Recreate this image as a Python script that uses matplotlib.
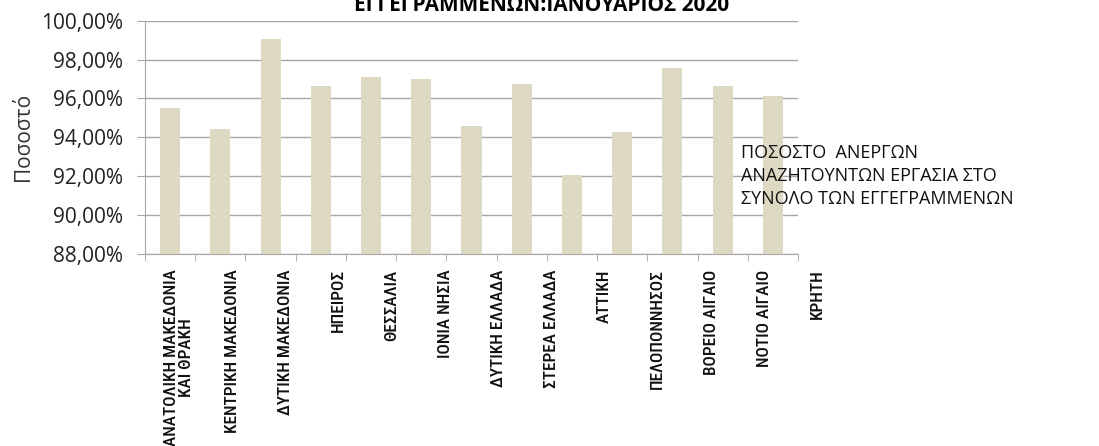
import matplotlib
matplotlib.use("Agg")
import matplotlib.pyplot as plt
from matplotlib.ticker import FuncFormatter, FixedLocator

categories = [
    "ΑΝΑΤΟΛΙΚΗ ΜΑΚΕΔΟΝΙΑ\nΚΑΙ ΘΡΑΚΗ",
    "ΚΕΝΤΡΙΚΗ ΜΑΚΕΔΟΝΙΑ",
    "ΔΥΤΙΚΗ ΜΑΚΕΔΟΝΙΑ",
    "ΗΠΕΙΡΟΣ",
    "ΘΕΣΣΑΛΙΑ",
    "ΙΟΝΙΑ ΝΗΣΙΑ",
    "ΔΥΤΙΚΗ ΕΛΛΑΔΑ",
    "ΣΤΕΡΕΑ ΕΛΛΑΔΑ",
    "ΑΤΤΙΚΗ",
    "ΠΕΛΟΠΟΝΝΗΣΟΣ",
    "ΒΟΡΕΙΟ ΑΙΓΑΙΟ",
    "ΝΟΤΙΟ ΑΙΓΑΙΟ",
    "ΚΡΗΤΗ",
]
values = [95.51, 94.43, 99.04, 96.66, 97.12, 97.02, 94.60, 96.75, 92.07, 94.29, 97.55, 96.66, 96.13]
series_name = "ΠΟΣΟΣΤΟ  ΑΝΕΡΓΩΝ\nΑΝΑΖΗΤΟΥΝΤΩΝ ΕΡΓΑΣΙΑ ΣΤΟ\nΣΥΝΟΛΟ ΤΩΝ ΕΓΓΕΓΡΑΜΜΕΝΩΝ"
title = "ΕΓΓΕΓΡΑΜΜΕΝΩΝ:ΙΑΝΟΥΑΡΙΟΣ 2020"
y_label = "Ποσοστό"
y_ticks = [88, 90, 92, 94, 96, 98, 100]

W, H = 1099, 446
fig = plt.figure(figsize=(W/100, H/100), dpi=100)
ax = fig.add_axes([145/W, 1-254/H, (798-145)/W, (254-20.7)/H])

n = len(categories)
x = list(range(n))
ax.bar(x, values, width=0.4, color="#DDD9C3", zorder=3)

ax.set_xlim(-0.5, n-0.5)
ax.set_ylim(88, 100)
ax.set_yticks(y_ticks)
ax.yaxis.set_major_formatter(FuncFormatter(lambda v, p: f"{v:.2f}".replace(".", ",") + "%"))
ax.grid(axis="y", color="#A6A6A6", linewidth=1.0, zorder=0)

for s in ["top", "right"]:
    ax.spines[s].set_visible(False)
ax.spines["left"].set_color("#A6A6A6")
ax.spines["bottom"].set_color("#A6A6A6")

ax.tick_params(axis="y", length=6, color="#A6A6A6", labelsize=15, pad=10, labelcolor="#222222")
for lbl in ax.get_yticklabels():
    lbl.set_family(["Open Sans", "DejaVu Sans"])
ax.set_xticks([])
ax.xaxis.set_minor_locator(FixedLocator([i - 0.5 for i in range(n+1)]))
ax.tick_params(axis="x", which="minor", length=5, color="#A6A6A6")

ax.set_ylabel(y_label, fontsize=15, color="#333333", family=["Open Sans", "DejaVu Sans"])
ax.yaxis.set_label_coords((34-145)/653, 0.5)

# category label row (spaced slightly wider than the plot area, as in the reference)
lab_left = 179 - 53.2*0.5
lab_right = 179 + 53.2*(n-0.5)
axl = fig.add_axes([lab_left/W, 1-254/H, (lab_right-lab_left)/W, 0.001])
axl.set_xlim(-0.5, n-0.5)
axl.set_xticks(x)
axl.set_xticklabels(categories, rotation=90, va="top", ha="center", ma="center",
                    family=["Roboto Condensed", "DejaVu Sans"], fontsize=12.4,
                    fontweight="medium", linespacing=1.05)
axl.tick_params(axis="x", length=0, pad=11, labelcolor="#111111")
axl.set_yticks([])
for s in axl.spines.values():
    s.set_visible(False)
axl.patch.set_visible(False)

fig.text(741/W, 1-176/H, series_name, fontsize=13, va="center", ha="left",
         family=["Open Sans", "DejaVu Sans"], linespacing=1.35, color="#111111")

fig.text(542/W, 1-11/H, title, fontsize=15, fontweight="bold", ha="center",
         va="baseline", family=["Open Sans", "DejaVu Sans"])

fig.savefig("out.png", dpi=100)
